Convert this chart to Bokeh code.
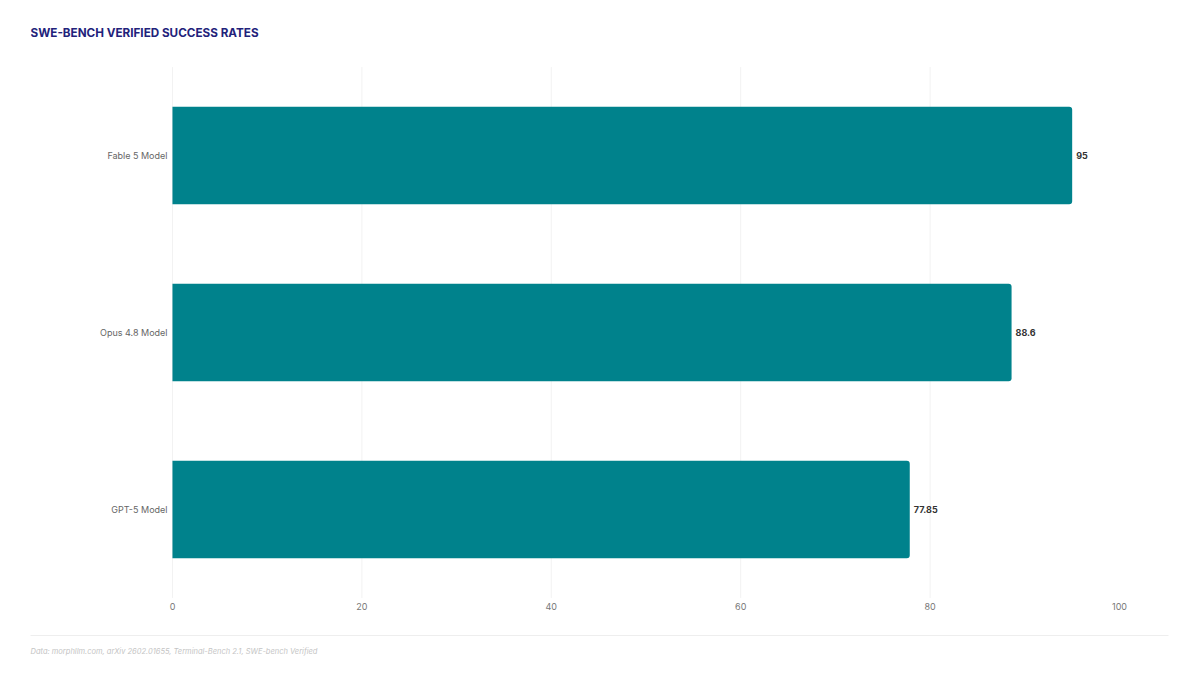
from bokeh.plotting import figure
from bokeh.models import Range1d, ColumnDataSource, FixedTicker, LinearAxis, Title, Label
from bokeh.core.properties import value
from bokeh.embed import file_html
from bokeh.resources import INLINE

title_text = "SWE-BENCH VERIFIED SUCCESS RATES"
footer_text = "Data: morphllm.com, arXiv 2602.01655, Terminal-Bench 2.1, SWE-bench Verified"
models = ["Fable 5 Model", "Opus 4.8 Model", "GPT-5 Model"]
rates = [95, 88.6, 77.85]
x_ticks = [0, 20, 40, 60, 80, 100]

FONT = "Inter"
BAR_H = 0.55

# numeric row positions (top row first)
ypos = [len(models) - 1 - i for i in range(len(models))]
src = ColumnDataSource(dict(y=ypos, model=models, rate=rates,
                            label=[f"{v:g}" for v in rates]))

p = figure(width=1184, height=667, x_range=Range1d(-14.99, 105.17),
           y_range=Range1d(-0.712, 2.876), output_backend="svg", toolbar_location=None,
           min_border_left=30, min_border_right=16, min_border_top=0, min_border_bottom=32)
p.outline_line_color = None
p.xgrid.visible = False
p.ygrid.visible = False

# faint vertical gridlines over the bar area (none at the right end)
grid_ticks = x_ticks[:-1]
n = len(grid_ticks)
p.segment(x0=grid_ticks, x1=grid_ticks, y0=[min(ypos) - 0.5] * n, y1=[max(ypos) + 0.5] * n,
          line_color="#f2f2f2", line_width=1)

p.hbar(y="y", right="rate", left=0, height=BAR_H, source=src,
       fill_color="#00828c", line_color=None, border_radius=(0, 3, 3, 0))
p.text(x="rate", y="y", text="label", source=src, x_offset=4,
       text_font=value(FONT), text_font_size="9px", text_font_style="bold",
       text_color="#333333", text_baseline="middle", text_align="left")

# x axis drawn at the bottom of the bar area
xa = p.xaxis[0]
xa.fixed_location = min(ypos) - 0.5
xa.ticker = FixedTicker(ticks=x_ticks)
xa.axis_line_color = None
xa.major_tick_line_color = None
xa.minor_tick_line_color = None
xa.major_tick_out = 0
xa.minor_tick_out = 0
xa.major_label_standoff = 5
xa.major_label_text_font = FONT
xa.major_label_text_font_size = "9px"
xa.major_label_text_color = "#777777"

# category axis drawn at x = 0
ya = p.yaxis[0]
ya.fixed_location = 0
ya.ticker = FixedTicker(ticks=ypos)
ya.major_label_overrides = {y: m for y, m in zip(ypos, models)}
ya.axis_line_color = None
ya.major_tick_line_color = None
ya.minor_tick_line_color = None
ya.major_tick_out = 0
ya.minor_tick_out = 0
ya.major_label_standoff = 5
ya.major_label_text_font = FONT
ya.major_label_text_font_size = "9px"
ya.major_label_text_color = "#666666"

# separator line along the bottom edge of the frame
sep = LinearAxis(ticker=FixedTicker(ticks=[]), axis_line_color="#eeeeee",
                 major_tick_out=0, major_tick_in=0, minor_tick_out=0, minor_tick_in=0,
                 major_label_standoff=0)
p.add_layout(sep, "below")

# title (inside the frame, screen units from frame bottom-left) and footer
p.add_layout(Label(x=0, y=603, x_units="screen", y_units="screen", text=title_text,
                   text_font=FONT, text_font_size="11.7px", text_font_style="bold",
                   text_color="#22227a", text_baseline="middle", text_align="left"))

p.add_layout(Title(text=footer_text, align="left", text_font=FONT, text_font_size="7.5px",
                   text_font_style="italic", text_color="#c4c4c4", standoff=18), "below")

open("out.html", "w").write(file_html(p, INLINE))
